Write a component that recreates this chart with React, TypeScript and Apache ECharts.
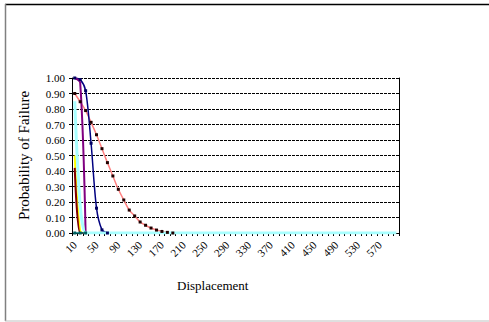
import React, { useEffect, useRef } from "react";
import * as echarts from "echarts";

const categories: string[] = [];
for (let v = 10; v <= 600; v += 10) categories.push(String(v));

const salmonValues = [0.9, 0.847, 0.79, 0.714, 0.634, 0.544, 0.454, 0.368, 0.282, 0.213, 0.148, 0.11, 0.071, 0.05, 0.032, 0.019, 0.01, 0.004, 0];
const navyValues = [1.0, 0.99, 0.918, 0.579, 0.16, 0.02, 0];
const purpleValues = [1.0, 0.97, 0];
const yellowValues = [0.5, 0.01, 0];
const darkRedValues = [0.42, 0, 0];
const cyanValues = [0.85, 0.18, 0];
const tealValues = [0, 0, 0];
const yTicks = [0, 0.1, 0.2, 0.3, 0.4, 0.5, 0.6, 0.7, 0.8, 0.9, 1.0];

const pad = (arr: number[]) => {
  const out = arr.slice();
  while (out.length < categories.length) out.push(0);
  return out;
};

const FONT = "'Liberation Serif', 'Times New Roman', serif";

export default function App() {
  const ref = useRef<HTMLDivElement>(null);
  useEffect(() => {
    document.body.style.margin = "0";
    const chart = echarts.init(ref.current!, undefined, { renderer: "svg" });
    const lineBase = (name: string, data: number[], color: string, width: number, symbol?: string, symColor?: string) => ({
      name,
      type: "line",
      data,
      smooth: 0.3,
      lineStyle: { color, width },
      itemStyle: { color: symColor || color },
      symbol: symbol || "none",
      symbolSize: 3,
      showSymbol: !!symbol,
    });
    chart.setOption({
      animation: false,
      backgroundColor: "#fff",
      grid: { left: 72, right: 90, top: 78, bottom: 89, containLabel: false },
      xAxis: {
        type: "category",
        data: categories,
        boundaryGap: true,
        axisLine: { show: true, lineStyle: { color: "#000", width: 1 } },
        axisTick: { show: true, interval: 0, length: 3, lineStyle: { color: "#000" } },
        axisLabel: { interval: 3, rotate: 45, fontFamily: FONT, fontSize: 11, color: "#000", margin: 10 },
        splitLine: { show: false },
      },
      yAxis: [
        {
          type: "value",
          min: 0,
          max: 1,
          interval: 0.1,
          name: "Probability of Failure",
          nameLocation: "middle",
          nameGap: 41,
          nameTextStyle: { fontFamily: FONT, fontSize: 15, color: "#000" },
          axisLine: { show: true, lineStyle: { color: "#000", width: 1 } },
          axisTick: { show: true, length: 3, lineStyle: { color: "#000" } },
          axisLabel: {
            fontFamily: FONT,
            fontSize: 11,
            color: "#000",
            margin: 7,
            formatter: (v: number) => (yTicks.some((t) => Math.abs(t - v) < 1e-9) ? v.toFixed(2) : ""),
          },
          splitLine: { show: true, lineStyle: { color: "#000", width: 1, type: [3, 1] } },
        },
        {
          type: "value",
          min: 0,
          max: 1,
          position: "right",
          axisLine: { show: true, lineStyle: { color: "#000", width: 1 } },
          axisTick: { show: false },
          axisLabel: { show: false },
          splitLine: { show: false },
        },
      ],
      series: [
        lineBase("S1", salmonValues, "#FF8080", 1.5, "rect", "#200000"),
        lineBase("S2", navyValues, "#000080", 1.5, "rect", "#000060"),
        lineBase("S3", purpleValues, "#800080", 2),
        lineBase("S4", yellowValues, "#FFFF00", 2),
        lineBase("S5", darkRedValues, "#800000", 2),
        lineBase("S6", pad(cyanValues), "#A8FFFF", 3),
        { ...lineBase("S7", tealValues, "#008080", 1.5, "rect", "#006060"), smooth: false },
      ],
      graphic: [
        {
          type: "text",
          left: 221 - 44,
          top: 279,
          style: { text: "Displacement", font: `13px ${FONT}`, fill: "#000" },
        },
        { type: "line", shape: { x1: 5, y1: 4.5, x2: 489, y2: 4.5 }, style: { stroke: "#000", lineWidth: 1.5 } },
        { type: "line", shape: { x1: 5.5, y1: 4, x2: 5.5, y2: 321 }, style: { stroke: "#808080", lineWidth: 1.5 } },
        { type: "line", shape: { x1: 5, y1: 321, x2: 489, y2: 321 }, style: { stroke: "#c0c0c0", lineWidth: 1 } },
      ],
    });
    return () => chart.dispose();
  }, []);
  return <div ref={ref} style={{ width: 489, height: 322 }} />;
}
